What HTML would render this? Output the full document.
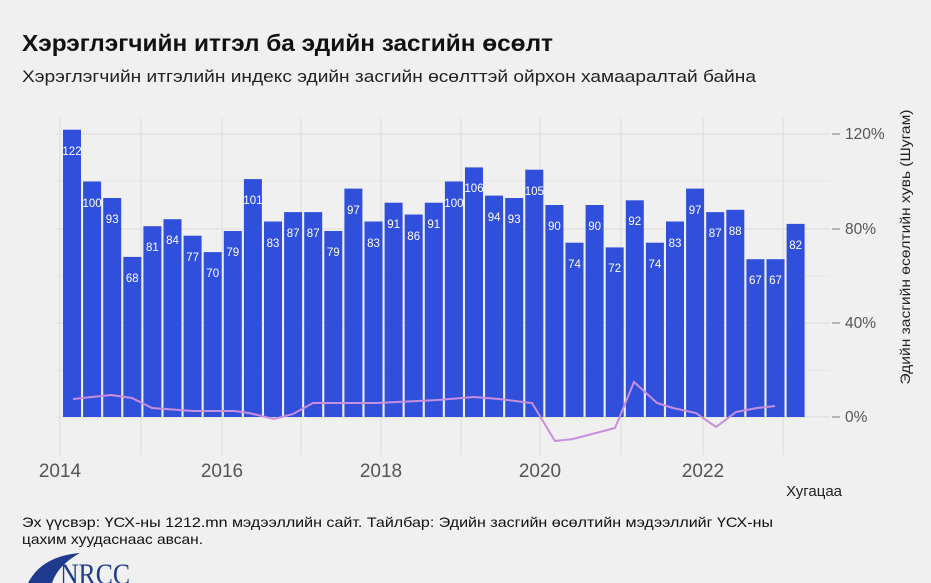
<!DOCTYPE html><html><head><meta charset="utf-8"><style>
body{margin:0;background:#f0f0f0;font-family:"Liberation Sans",sans-serif;}
</style></head><body>
<svg width="931" height="583" xmlns="http://www.w3.org/2000/svg" style="display:block">
<defs><clipPath id="c"><rect x="0" y="0" width="931" height="417"/></clipPath></defs>
<rect width="931" height="583" fill="#f0f0f0"/>
<text x="22" y="51" font-size="23" font-weight="bold" fill="#111" textLength="531" lengthAdjust="spacingAndGlyphs">Хэрэглэгчийн итгэл ба эдийн засгийн өсөлт</text>
<text x="22" y="82" font-size="17" fill="#222" textLength="734" lengthAdjust="spacingAndGlyphs">Хэрэглэгчийн итгэлийн индекс эдийн засгийн өсөлттэй ойрхон хамааралтай байна</text>
<g stroke="#dcdcdc" stroke-width="1">
<line x1="55" x2="830" y1="417" y2="417"/><line x1="55" x2="830" y1="323" y2="323"/><line x1="55" x2="830" y1="229" y2="229"/><line x1="55" x2="830" y1="134" y2="134"/>
<line x1="55" x2="830" y1="370" y2="370" stroke="#e6e6e6"/><line x1="55" x2="830" y1="276" y2="276" stroke="#e6e6e6"/><line x1="55" x2="830" y1="181" y2="181" stroke="#e6e6e6"/>
<line x1="60" x2="60" y1="118" y2="455"/><line x1="141" x2="141" y1="118" y2="455"/><line x1="222" x2="222" y1="118" y2="455"/><line x1="301" x2="301" y1="118" y2="455"/><line x1="381" x2="381" y1="118" y2="455"/><line x1="461" x2="461" y1="118" y2="455"/><line x1="540" x2="540" y1="118" y2="455"/><line x1="621" x2="621" y1="118" y2="455"/><line x1="703" x2="703" y1="118" y2="455"/><line x1="783" x2="783" y1="118" y2="455"/>
</g>
<g fill="#3050dc" clip-path="url(#c)">
<rect x="63" y="129.7" width="18" height="300"/>
<rect x="83.1" y="181.5" width="18" height="300"/>
<rect x="103.2" y="198" width="18" height="300"/>
<rect x="123.3" y="256.9" width="18" height="300"/>
<rect x="143.4" y="226.2" width="18" height="300"/>
<rect x="163.5" y="219.2" width="18" height="300"/>
<rect x="183.6" y="235.7" width="18" height="300"/>
<rect x="203.7" y="252.1" width="18" height="300"/>
<rect x="223.8" y="231" width="18" height="300"/>
<rect x="243.9" y="179.1" width="18" height="300"/>
<rect x="264" y="221.5" width="18" height="300"/>
<rect x="284.1" y="212.1" width="18" height="300"/>
<rect x="304.2" y="212.1" width="18" height="300"/>
<rect x="324.3" y="231" width="18" height="300"/>
<rect x="344.4" y="188.6" width="18" height="300"/>
<rect x="364.5" y="221.5" width="18" height="300"/>
<rect x="384.6" y="202.7" width="18" height="300"/>
<rect x="404.7" y="214.5" width="18" height="300"/>
<rect x="424.8" y="202.7" width="18" height="300"/>
<rect x="444.9" y="181.5" width="18" height="300"/>
<rect x="465" y="167.4" width="18" height="300"/>
<rect x="485.1" y="195.6" width="18" height="300"/>
<rect x="505.2" y="198" width="18" height="300"/>
<rect x="525.3" y="169.7" width="18" height="300"/>
<rect x="545.4" y="205" width="18" height="300"/>
<rect x="565.5" y="242.7" width="18" height="300"/>
<rect x="585.6" y="205" width="18" height="300"/>
<rect x="605.7" y="247.4" width="18" height="300"/>
<rect x="625.8" y="200.3" width="18" height="300"/>
<rect x="645.9" y="242.7" width="18" height="300"/>
<rect x="666" y="221.5" width="18" height="300"/>
<rect x="686.1" y="188.6" width="18" height="300"/>
<rect x="706.2" y="212.1" width="18" height="300"/>
<rect x="726.3" y="209.8" width="18" height="300"/>
<rect x="746.4" y="259.2" width="18" height="300"/>
<rect x="766.5" y="259.2" width="18" height="300"/>
<rect x="786.6" y="223.9" width="18" height="300"/>
</g>
<g font-size="11.5" fill="#fff" text-anchor="middle">
<text x="72" y="155">122</text><text x="92.1" y="207">100</text><text x="112.2" y="223">93</text><text x="132.3" y="282">68</text><text x="152.4" y="251">81</text><text x="172.5" y="244">84</text><text x="192.6" y="261">77</text><text x="212.7" y="277">70</text><text x="232.8" y="256">79</text><text x="252.9" y="204">101</text><text x="273" y="247">83</text><text x="293.1" y="237">87</text><text x="313.2" y="237">87</text><text x="333.3" y="256">79</text><text x="353.4" y="214">97</text><text x="373.5" y="247">83</text><text x="393.6" y="228">91</text><text x="413.7" y="240">86</text><text x="433.8" y="228">91</text><text x="453.9" y="207">100</text><text x="474" y="192">106</text><text x="494.1" y="221">94</text><text x="514.2" y="223">93</text><text x="534.3" y="195">105</text><text x="554.4" y="230">90</text><text x="574.5" y="268">74</text><text x="594.6" y="230">90</text><text x="614.7" y="272">72</text><text x="634.8" y="225">92</text><text x="654.9" y="268">74</text><text x="675" y="247">83</text><text x="695.1" y="214">97</text><text x="715.2" y="237">87</text><text x="735.3" y="235">88</text><text x="755.4" y="284">67</text><text x="775.5" y="284">67</text><text x="795.6" y="249">82</text>
</g>
<polyline fill="none" stroke="#c88ee0" stroke-width="2" points="73,399 111,395 132,398 152,408 193,411 234,411 249,413 274,419 293,414 313,403 346,403 377,403 418,401 438,400 474,397 499,399 532,403 555,441 573,439 615,428 634,382 657,403 673,408 696,413 716,427 736,412 757,408 775,406"/>
<g font-size="15.5" fill="#555">
<text x="845" y="139">120%</text><text x="845" y="234">80%</text><text x="845" y="328">40%</text><text x="845" y="422">0%</text>
</g>
<g stroke="#777"><line x1="832" x2="840" y1="134" y2="134"/><line x1="832" x2="840" y1="229" y2="229"/><line x1="832" x2="840" y1="323" y2="323"/><line x1="832" x2="840" y1="417" y2="417"/></g>
<text transform="translate(910,247) rotate(-90)" text-anchor="middle" font-size="14" fill="#222" textLength="275" lengthAdjust="spacingAndGlyphs">Эдийн засгийн өсөлтийн хувь (Шугам)</text>
<g font-size="19" fill="#555" text-anchor="middle">
<text x="60" y="477">2014</text><text x="222" y="477">2016</text><text x="381" y="477">2018</text><text x="540" y="477">2020</text><text x="703" y="477">2022</text>
</g>
<text x="842" y="496" text-anchor="end" font-size="15" fill="#222">Хугацаа</text>
<text x="22" y="527" font-size="14" fill="#111" textLength="751" lengthAdjust="spacingAndGlyphs">Эх үүсвэр: ҮСХ-ны 1212.mn мэдээллийн сайт. Тайлбар: Эдийн засгийн өсөлтийн мэдээллийг ҮСХ-ны</text>
<text x="22" y="544" font-size="14" fill="#111" textLength="181" lengthAdjust="spacingAndGlyphs">цахим хуудаснаас авсан.</text>
<path d="M28,583 Q42,556 80,553 Q58,565 52,583 Z" fill="#1d3a8f"/>
<text x="60" y="584" font-family="Liberation Serif,serif" font-size="30" fill="#1d3a8f" textLength="70" lengthAdjust="spacingAndGlyphs">NRCC</text>
</svg>
</body></html>
